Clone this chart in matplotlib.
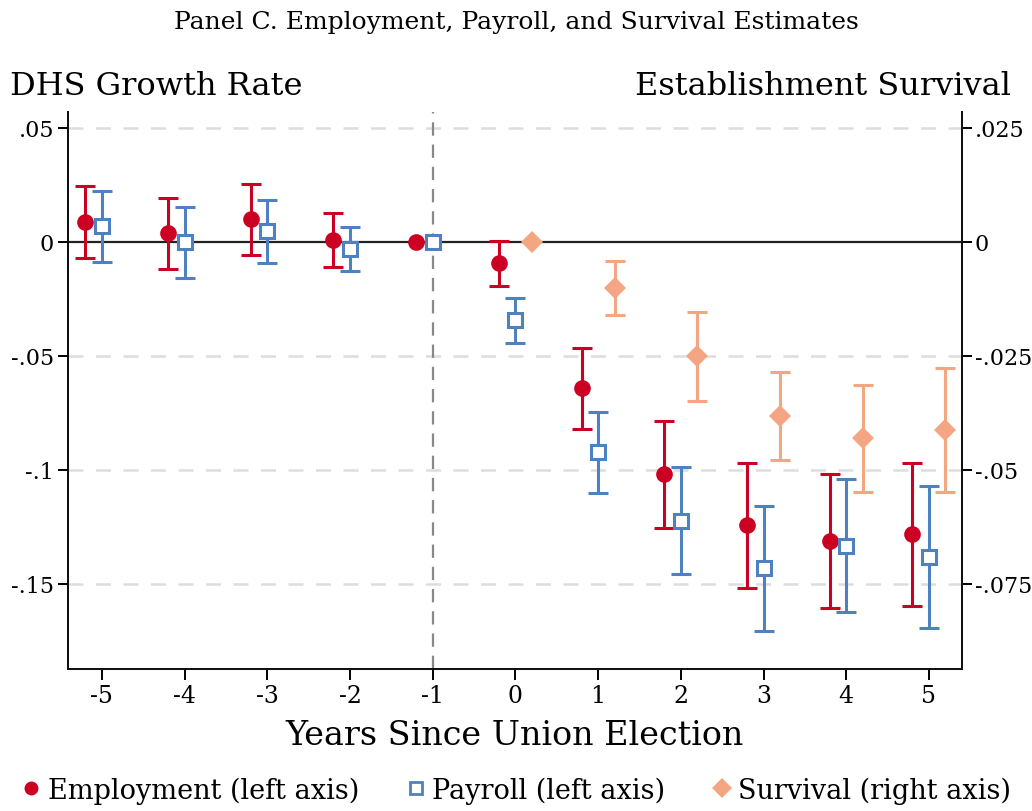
import numpy as np
import matplotlib
matplotlib.use("Agg")
import matplotlib.pyplot as plt
from matplotlib.lines import Line2D

# Event-study estimates by year relative to the union election
years = [-5, -4, -3, -2, -1, 0, 1, 2, 3, 4, 5]

emp_est = [0.0086, 0.0038, 0.0098, 0.0007, 0.0, -0.0094, -0.0640, -0.1020, -0.1241, -0.1313, -0.1282]
emp_lo = [-0.0070, -0.0118, -0.0060, -0.0111, np.nan, -0.0192, -0.0820, -0.1257, -0.1518, -0.1607, -0.1595]
emp_hi = [0.0244, 0.0193, 0.0254, 0.0126, np.nan, 0.0004, -0.0465, -0.0787, -0.0968, -0.1019, -0.0968]

pay_est = [0.0069, 0.0, 0.0047, -0.0032, 0.0, -0.0342, -0.0922, -0.1222, -0.1431, -0.1332, -0.1382]
pay_lo = [-0.0089, -0.0159, -0.0091, -0.0130, np.nan, -0.0442, -0.1100, -0.1456, -0.1705, -0.1624, -0.1694]
pay_hi = [0.0222, 0.0152, 0.0183, 0.0064, np.nan, -0.0246, -0.0747, -0.0989, -0.1158, -0.1039, -0.1069]

surv_years = [0, 1, 2, 3, 4, 5]
surv_est = [0.0, -0.0102, -0.0250, -0.0381, -0.0431, -0.0412]
surv_lo = [np.nan, -0.0161, -0.0349, -0.0479, -0.0549, -0.0548]
surv_hi = [np.nan, -0.0043, -0.0154, -0.0285, -0.0314, -0.0276]

left_ticks = [0.05, 0, -0.05, -0.1, -0.15]
left_labels = [".05", "0", "-.05", "-.1", "-.15"]
right_ticks = [0.025, 0, -0.025, -0.05, -0.075]
right_labels = [".025", "0", "-.025", "-.05", "-.075"]

RED = "#CC0022"
BLUE = "#4F81C0"
ORANGE = "#F4A582"
SERIF = ["DejaVu Serif"]

plt.rcParams["font.family"] = SERIF

fig = plt.figure(figsize=(10.32, 8.12), dpi=100)
ax = fig.add_axes([0.0659, 0.1749, 0.8663, 0.6859])
ax2 = ax.twinx()

ylo, yhi = -0.1873, 0.0569
ax.set_ylim(ylo, yhi)
ax2.set_ylim(ylo / 2, yhi / 2)
ax.set_xlim(-5.41, 5.40)

# reference lines
for t in left_ticks:
    if t != 0:
        ax.axhline(t, color="#DDDDDD", lw=1.8, ls=(0, (6, 5)), zorder=0)
ax.axhline(0, color="#222222", lw=1.6, zorder=1)
ax.axvline(-1, color="#888888", lw=1.6, ls=(0, (6, 4)), zorder=1)


def draw_series(axis, xs, est, lo, hi, color, marker, ms, mfc, mew):
    xs = np.asarray(xs, dtype=float)
    est = np.asarray(est)
    lo = np.asarray(lo)
    hi = np.asarray(hi)
    ok = ~np.isnan(lo)
    axis.errorbar(xs[ok], est[ok], yerr=[est[ok] - lo[ok], hi[ok] - est[ok]],
                  fmt="none", ecolor=color, elinewidth=2.2, capsize=7,
                  capthick=2.2, zorder=3)
    axis.plot(xs, est, ls="none", marker=marker, ms=ms, mfc=mfc,
              mec=color, mew=mew, zorder=4)


draw_series(ax, np.array(years) - 0.2, emp_est, emp_lo, emp_hi, RED, "o", 12, RED, 0)
draw_series(ax, np.array(years), pay_est, pay_lo, pay_hi, BLUE, "s", 10, "white", 2.2)
draw_series(ax2, np.array(surv_years) + 0.2, surv_est, surv_lo, surv_hi, ORANGE, "D", 11, ORANGE, 0)

# axes styling
for a in (ax, ax2):
    a.spines["top"].set_visible(False)
    for s in ("left", "right", "bottom"):
        a.spines[s].set_linewidth(1.4)
        a.spines[s].set_color("#111111")

ax.set_yticks(left_ticks)
ax.set_yticklabels(left_labels)
ax2.set_yticks(right_ticks)
ax2.set_yticklabels(right_labels)
ax.set_xticks(years)
ax.set_xticklabels([str(y) for y in years])
ax.tick_params(axis="x", labelsize=17, length=8, width=1.4, direction="out", pad=3)
ax.tick_params(axis="y", labelsize=16, length=7, width=1.4, direction="out", pad=3)
ax2.tick_params(axis="y", labelsize=16, length=7, width=1.4, direction="out", pad=2)

fig.text(0.5, 0.972, "Panel C. Employment, Payroll, and Survival Estimates",
         ha="center", va="center", fontsize=18)
fig.text(0.010, 0.893, "DHS Growth Rate", ha="left", va="center", fontsize=23)
fig.text(0.980, 0.893, "Establishment Survival", ha="right", va="center", fontsize=23)
fig.text(0.499, 0.093, "Years Since Union Election", ha="center", va="center", fontsize=24)

handles = [
    Line2D([], [], ls="none", marker="o", ms=10, mfc=RED, mec=RED, mew=0),
    Line2D([], [], ls="none", marker="s", ms=9, mfc="white", mec=BLUE, mew=2),
    Line2D([], [], ls="none", marker="D", ms=10, mfc=ORANGE, mec=ORANGE, mew=0),
]
labels = ["Employment (left axis)", "Payroll (left axis)", "Survival (right axis)"]
fig.legend(handles, labels, loc="center", bbox_to_anchor=(0.5, 0.026), ncol=3,
           frameon=False, fontsize=19.5, handletextpad=0.2, columnspacing=1.7,
           handlelength=0.8, borderaxespad=0)

fig.savefig("out.png", dpi=100, facecolor="white")
